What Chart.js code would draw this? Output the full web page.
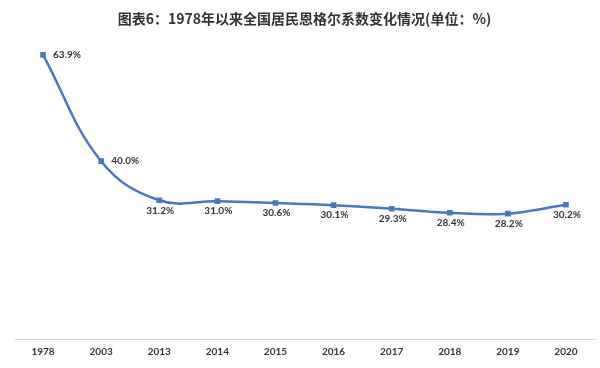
<!DOCTYPE html>
<html>
<head>
<meta charset="utf-8">
<script src="https://cdn.jsdelivr.net/npm/chart.js@4/dist/chart.umd.min.js"></script>
<style>
  html, body { margin: 0; padding: 0; background: #fff; }
  #wrap { width: 600px; height: 368px; }
</style>
</head>
<body>
<div id="wrap"><canvas id="engelChart" width="600" height="368"></canvas></div>
<script>
// data
const years = ["1978", "2003", "2013", "2014", "2015", "2016", "2017", "2018", "2019", "2020"];
const engelValues = [63.9, 40.0, 31.2, 31.0, 30.6, 30.1, 29.3, 28.4, 28.2, 30.2];
const titleText = "图表6：1978年以来全国居民恩格尔系数变化情况(单位：%)";

const lineColor = "#4479c4";

// draws the value labels next to each point
const valueLabels = {
  id: "valueLabels",
  afterDatasetsDraw(chart) {
    const ctx = chart.ctx;
    const meta = chart.getDatasetMeta(0);
    ctx.save();
    ctx.font = "bold 10px Lato, 'Liberation Sans', sans-serif";
    ctx.fillStyle = "#333";
    ctx.textBaseline = "middle";
    meta.data.forEach((pt, i) => {
      const txt = engelValues[i].toFixed(1) + "%";
      if (i < 2) {
        ctx.textAlign = "left";
        ctx.fillText(txt, pt.x + 10, pt.y);
      } else {
        ctx.textAlign = "center";
        ctx.fillText(txt, pt.x + 1, pt.y + 10);
      }
    });
    ctx.restore();
  }
};

new Chart(document.getElementById("engelChart"), {
  type: "line",
  data: {
    labels: years,
    datasets: [{
      data: engelValues,
      borderColor: lineColor,
      backgroundColor: lineColor,
      borderWidth: 2.5,
      tension: 0.4,
      pointStyle: "rect",
      pointRadius: 4,
      pointBorderWidth: 0,
      fill: false
    }]
  },
  options: {
    responsive: false,
    animation: false,
    layout: { padding: { left: 14, right: 5, bottom: 10 } },
    plugins: {
      legend: { display: false },
      tooltip: { enabled: false },
      title: {
        display: true,
        text: titleText,
        color: "#333",
        font: { family: "'Noto Sans CJK SC', sans-serif", size: 14, weight: "bold" },
        padding: { top: 10, bottom: 1 }
      }
    },
    scales: {
      x: {
        offset: true,
        // grid hidden, tickLength only keeps the gap under the axis line
        grid: { display: false, tickLength: 7 },
        border: { display: true, color: "#d9d9d9", width: 1 },
        ticks: {
          color: "#333",
          padding: 0,
          maxRotation: 0,
          font: { family: "Lato, 'Liberation Sans', sans-serif", size: 10, weight: "bold" }
        }
      },
      y: {
        display: false,
        min: 0,
        max: 70
      }
    }
  },
  plugins: [valueLabels]
});
</script>
</body>
</html>
